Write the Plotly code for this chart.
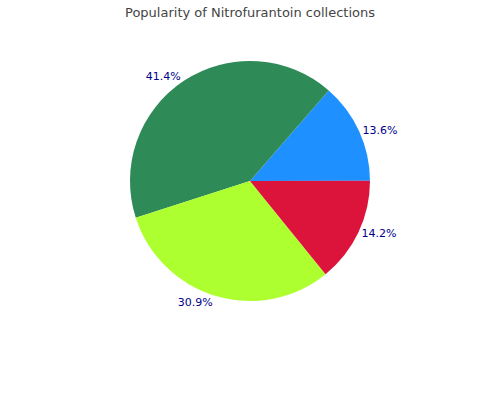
import plotly.graph_objects as go

labels = ["A", "B", "C", "D"]
values = [13.6, 41.4, 30.9, 14.2]
colors = ["#1E90FF", "#2E8B57", "#ADFF2F", "#DC143C"]

fig = go.Figure(go.Pie(
    labels=labels, values=values, sort=False, direction="counterclockwise",
    rotation=41, marker=dict(colors=colors),
    textinfo="percent", textposition="outside",
    textfont=dict(color="#00008B", size=11, family="DejaVu Sans"),
    domain=dict(x=[0.26, 0.74], y=[0.2475, 0.8475]),
    showlegend=False,
))
fig.update_layout(
    width=500, height=400,
    margin=dict(l=0, r=0, t=0, b=0),
    paper_bgcolor="white", plot_bgcolor="white",
    title=dict(text="Popularity of Nitrofurantoin collections", x=0.5, y=0.97, xanchor="center", yanchor="middle",
               font=dict(size=13, color="#444", family="DejaVu Sans")),
)
fig.write_html("out.html", config={"displayModeBar": False},
               post_script="document.body.style.margin='0';")
